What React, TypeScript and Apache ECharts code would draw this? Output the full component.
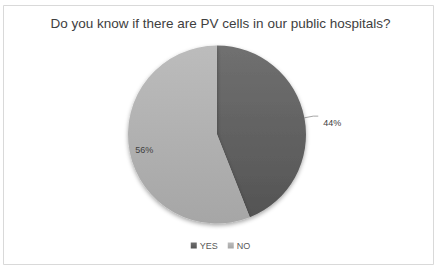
import React, { useEffect, useRef } from "react";
import * as echarts from "echarts";

const TITLE = "Do you know if there are PV cells in our public hospitals?";
const categories = ["YES", "NO"];
const values = [44, 56];
const colorsTop = ["#707070", "#bcbcbc"];
const colorsBottom = ["#545454", "#a6a6a6"];

export default function App() {
  const ref = useRef<HTMLDivElement>(null);
  useEffect(() => {
    if (!ref.current) return;
    const chart = echarts.init(ref.current, undefined, { renderer: "svg" });
    const font = "Liberation Sans, Arial, sans-serif";
    chart.setOption({
      animation: false,
      backgroundColor: "#ffffff",
      title: {
        text: TITLE,
        left: "center",
        top: 11,
        textStyle: { fontFamily: font, fontSize: 13.5, fontWeight: "normal", color: "#404040" },
      },
      graphic: [
        {
          type: "rect",
          shape: { x: 3.5, y: 5.5, width: 430, height: 259 },
          style: { fill: "none", stroke: "#d9d9d9", lineWidth: 1 },
          silent: true,
          z: -10,
        },
      ],
      legend: {
        bottom: 17,
        left: "center",
        itemWidth: 6,
        itemHeight: 6,
        itemGap: 10,
        icon: "rect",
        textStyle: { fontFamily: font, fontSize: 9, color: "#595959", padding: [0, 0, 0, -2] },
        data: categories,
      },
      series: [
        {
          type: "pie",
          center: [217, 134.5],
          radius: [0, 89],
          startAngle: 90,
          clockwise: true,
          data: categories.map((c, i) => ({
            name: c,
            value: values[i],
            itemStyle: {
              color: new echarts.graphic.LinearGradient(0, 0, 0, 1, [
                { offset: 0, color: colorsTop[i] },
                { offset: 1, color: colorsBottom[i] },
              ]),
            },
            label:
              i === 0
                ? { position: "outside" }
                : { position: "inside" },
          })),
          itemStyle: {
            borderWidth: 0,
            shadowBlur: 4,
            shadowOffsetY: 2,
            shadowColor: "rgba(0,0,0,0.35)",
          },
          label: {
            formatter: "{c}%",
            fontFamily: font,
            fontSize: 9,
            color: "#404040",
          },
          labelLine: {
            length: 9,
            length2: 5,
            lineStyle: { color: "#a6a6a6", width: 1 },
          },
          labelLayout: (params: any) =>
            params.dataIndex === 1 ? { dx: -26, dy: 7 } : { dy: 7 },
          emphasis: { disabled: true },
        },
      ],
    });
    return () => chart.dispose();
  }, []);
  return (
    <div
      ref={ref}
      style={{ position: "fixed", left: 0, top: 0, width: 441, height: 272 }}
    />
  );
}
